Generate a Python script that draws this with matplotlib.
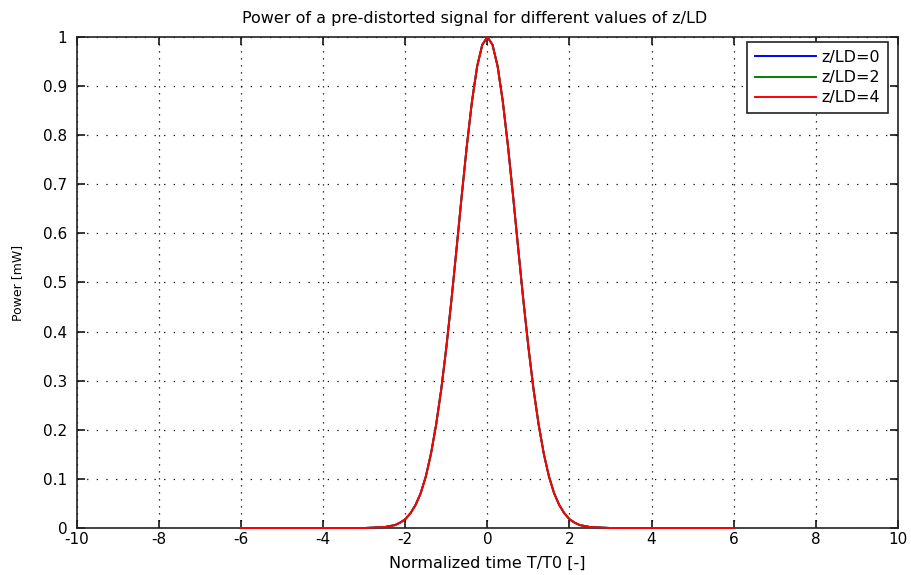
import matplotlib
matplotlib.use("Agg")
import matplotlib.pyplot as plt
import numpy as np

plt.rcParams['font.family'] = ['DejaVu Sans']

# normalized time and pulse power (same pre-distorted pulse for every z/LD)
t_norm = [-6.0, -3.0, -2.5, -2.25, -2.125, -2.0, -1.875, -1.75, -1.625, -1.5, -1.375,
          -1.25, -1.125, -1.0, -0.875, -0.75, -0.625, -0.5, -0.375, -0.25, -0.125,
          0.0, 0.125, 0.25, 0.375, 0.5, 0.625, 0.75, 0.875, 1.0, 1.125, 1.25,
          1.375, 1.5, 1.625, 1.75, 1.875, 2.0, 2.125, 2.25, 2.5, 3.0, 6.0]
power = [0.0, 0.0, 0.002, 0.006, 0.011, 0.018, 0.030, 0.047, 0.071, 0.105, 0.151,
         0.210, 0.282, 0.368, 0.465, 0.570, 0.677, 0.779, 0.869, 0.940, 0.984,
         1.0, 0.984, 0.940, 0.869, 0.779, 0.677, 0.570, 0.465, 0.368, 0.282, 0.210,
         0.151, 0.105, 0.071, 0.047, 0.030, 0.018, 0.011, 0.006, 0.002, 0.0, 0.0]
z_ld = [0, 2, 4]
colors = ['#0000ff', '#008000', '#ff0000']
x_ticks = [-10, -8, -6, -4, -2, 0, 2, 4, 6, 8, 10]
y_ticks = [0, 0.1, 0.2, 0.3, 0.4, 0.5, 0.6, 0.7, 0.8, 0.9, 1]

fig = plt.figure(figsize=(9.11, 5.75), dpi=100)
ax = fig.add_axes([0.0845, 0.0817, 0.901, 0.854])

for z, c in zip(z_ld, colors):
    ax.plot(t_norm, power, color=c, lw=1.4, label=f'z/LD={z}', zorder=3, clip_on=False)

ax.set_xlim(-10, 10)
ax.set_ylim(0, 1)
ax.set_xticks(x_ticks)
ax.set_yticks(y_ticks)
ax.set_xticklabels([f'{v:g}' for v in x_ticks])
ax.set_yticklabels([f'{v:g}' for v in y_ticks])
ax.tick_params(direction='in', top=True, right=True, labelsize=11, length=5.8, width=1.1)
ax.tick_params(axis='x', pad=3)
ax.tick_params(axis='y', pad=7)
# dotted grid, vertical lines a bit denser than horizontal ones
ax.xaxis.grid(True, color='black', linestyle=(0, (1, 4.6)), linewidth=0.9)
ax.yaxis.grid(True, color='black', linestyle=(0, (1, 6.7)), linewidth=0.9)
for s in ax.spines.values():
    s.set_linewidth(1.2)
    s.set_color('#222222')

ax.set_title('Power of a pre-distorted signal for different values of z/LD',
             fontsize=11.5, pad=10, x=0.485)
ax.set_xlabel('Normalized time T/T0 [-]', fontsize=11.5, labelpad=6)
ax.set_ylabel('Power [mW]', fontsize=9, labelpad=14)

leg = ax.legend(loc='upper right', bbox_to_anchor=(0.988, 0.990), borderaxespad=0,
                fontsize=11.5, fancybox=False, framealpha=1, edgecolor='#222222',
                handlelength=3.8, handletextpad=0.35, labelspacing=0.33, borderpad=0.5)
leg.get_frame().set_linewidth(1.2)

fig.savefig('out.png', dpi=100)
